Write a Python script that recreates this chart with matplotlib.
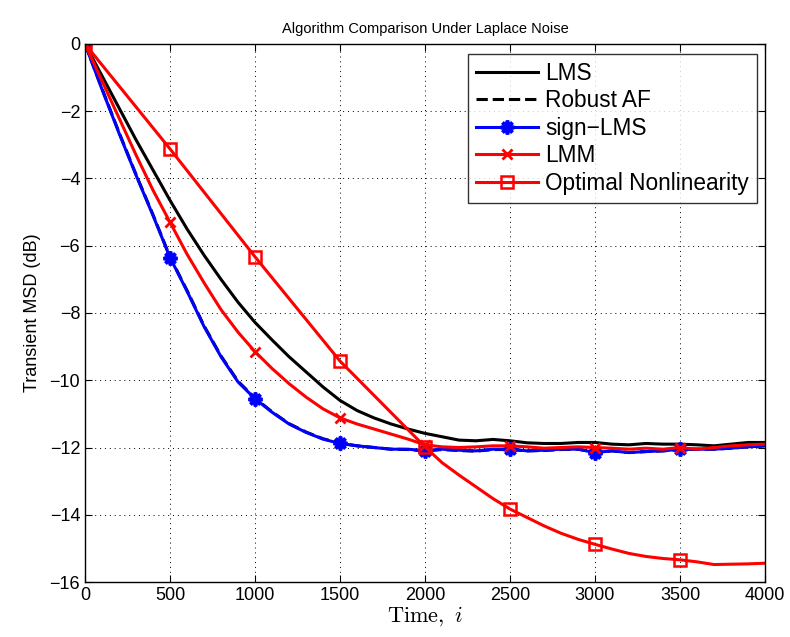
import numpy as np
import matplotlib
matplotlib.use("Agg")
import matplotlib.pyplot as plt

# iteration index, sampled every 100
t = np.arange(0, 4001, 100)

lms = [0, -0.95, -1.9, -2.85, -3.75, -4.65, -5.5, -6.28, -7.0, -7.68, -8.28,
       -8.8, -9.3, -9.75, -10.2, -10.6, -10.9, -11.12, -11.3, -11.45, -11.58,
       -11.68, -11.78, -11.8, -11.76, -11.8, -11.86, -11.88, -11.88, -11.85, -11.85,
       -11.9, -11.92, -11.88, -11.9, -11.9, -11.92, -11.95, -11.9, -11.85, -11.85]

robust_af = [0, -1.33, -2.63, -3.88, -5.08, -6.33, -7.33, -8.38, -9.28, -10.03, -10.53,
             -10.94, -11.29, -11.54, -11.74, -11.87, -11.95, -12.0, -12.05, -12.06, -12.1,
             -12.06, -12.09, -12.11, -12.06, -12.06, -12.1, -12.09, -12.06, -12.05, -12.14,
             -12.1, -12.15, -12.12, -12.1, -12.06, -12.05, -12.05, -12.02, -11.98, -11.95]

sign_lms = [0, -1.35, -2.65, -3.9, -5.1, -6.35, -7.35, -8.4, -9.3, -10.05, -10.55,
            -10.95, -11.3, -11.55, -11.75, -11.88, -11.95, -12.0, -12.05, -12.05, -12.1,
            -12.05, -12.08, -12.1, -12.05, -12.05, -12.1, -12.08, -12.05, -12.05, -12.15,
            -12.1, -12.15, -12.12, -12.1, -12.05, -12.05, -12.05, -12.02, -11.98, -11.95]

lmm = [0, -1.1, -2.2, -3.3, -4.35, -5.3, -6.25, -7.1, -7.9, -8.57, -9.15,
       -9.65, -10.1, -10.5, -10.85, -11.12, -11.3, -11.45, -11.6, -11.75, -11.92,
       -11.98, -12.0, -11.98, -11.95, -11.95, -11.98, -12.02, -12.0, -11.98, -12.0,
       -12.02, -12.05, -12.02, -12.05, -12.0, -12.05, -12.0, -11.95, -11.92, -11.9]

# optimal nonlinearity: coarse up to 2000, then every 100
t_opt = [0, 500, 1000, 1500] + list(range(2000, 4001, 100))
opt = [0, -3.12, -6.33, -9.43,
       -11.98, -12.45, -12.82, -13.17, -13.52, -13.83, -14.08, -14.33, -14.55, -14.73,
       -14.88, -15.02, -15.15, -15.24, -15.3, -15.34, -15.4, -15.48, -15.47, -15.46, -15.44]

plt.rcParams['font.family'] = ['Liberation Sans', 'DejaVu Sans']
plt.rcParams['mathtext.fontset'] = 'cm'

fig = plt.figure(figsize=(7.9, 6.37), dpi=100)
ax = fig.add_axes([0.1076, 0.0863, 0.8608, 0.8447])

# markers every 500 iterations, none at the last sample
marks = list(range(0, 36, 5))
opt_marks = [i for i, v in enumerate(t_opt) if v % 500 == 0 and v < 4000]

lw = 2.2
ax.plot(t, lms, color='k', lw=lw, label='LMS')
ax.plot(t, robust_af, color='k', lw=lw, ls='--', label='Robust AF')
ax.plot(t, sign_lms, color='b', lw=lw, marker=(8, 2, 0), ms=10, mew=2.6,
        markevery=marks, label='sign\u2212LMS')
ax.plot(t, lmm, color='r', lw=lw, marker='x', ms=7, mew=2, markevery=marks, label='LMM')
ax.plot(t_opt, opt, color='r', lw=lw, marker='s', ms=9, mfc='none', mew=1.8,
        markevery=opt_marks, label='Optimal Nonlinearity')

ax.set_xlim(0, 4000)
ax.set_ylim(-16, 0)
ax.set_xticks(np.arange(0, 4001, 500))
ax.set_yticks(np.arange(-16, 1, 2))
ax.set_yticklabels(['\u2212%d' % -v if v < 0 else '0' for v in range(-16, 1, 2)])
ax.tick_params(direction='in', top=True, right=True, labelsize=13, length=5, width=0.8)
ax.grid(True, ls=(0, (1, 4)), color='k', lw=0.7)
for s in ax.spines.values():
    s.set_linewidth(1.0)

ax.set_title('Algorithm Comparison Under Laplace Noise', fontsize=10.5, pad=8)
ax.set_xlabel(r'$\mathrm{Time},\ i$', fontsize=16, labelpad=0)
ax.set_ylabel('Transient MSD (dB)', fontsize=13, labelpad=6)

leg = ax.legend(loc='upper right', bbox_to_anchor=(0.9875, 0.982), fontsize=16.3,
                fancybox=False, edgecolor='k', handlelength=2.75, borderaxespad=0,
                labelspacing=0.2, handletextpad=0.3, borderpad=0.35)
leg.get_frame().set_linewidth(1.0)

fig.savefig('out.png', dpi=100)
